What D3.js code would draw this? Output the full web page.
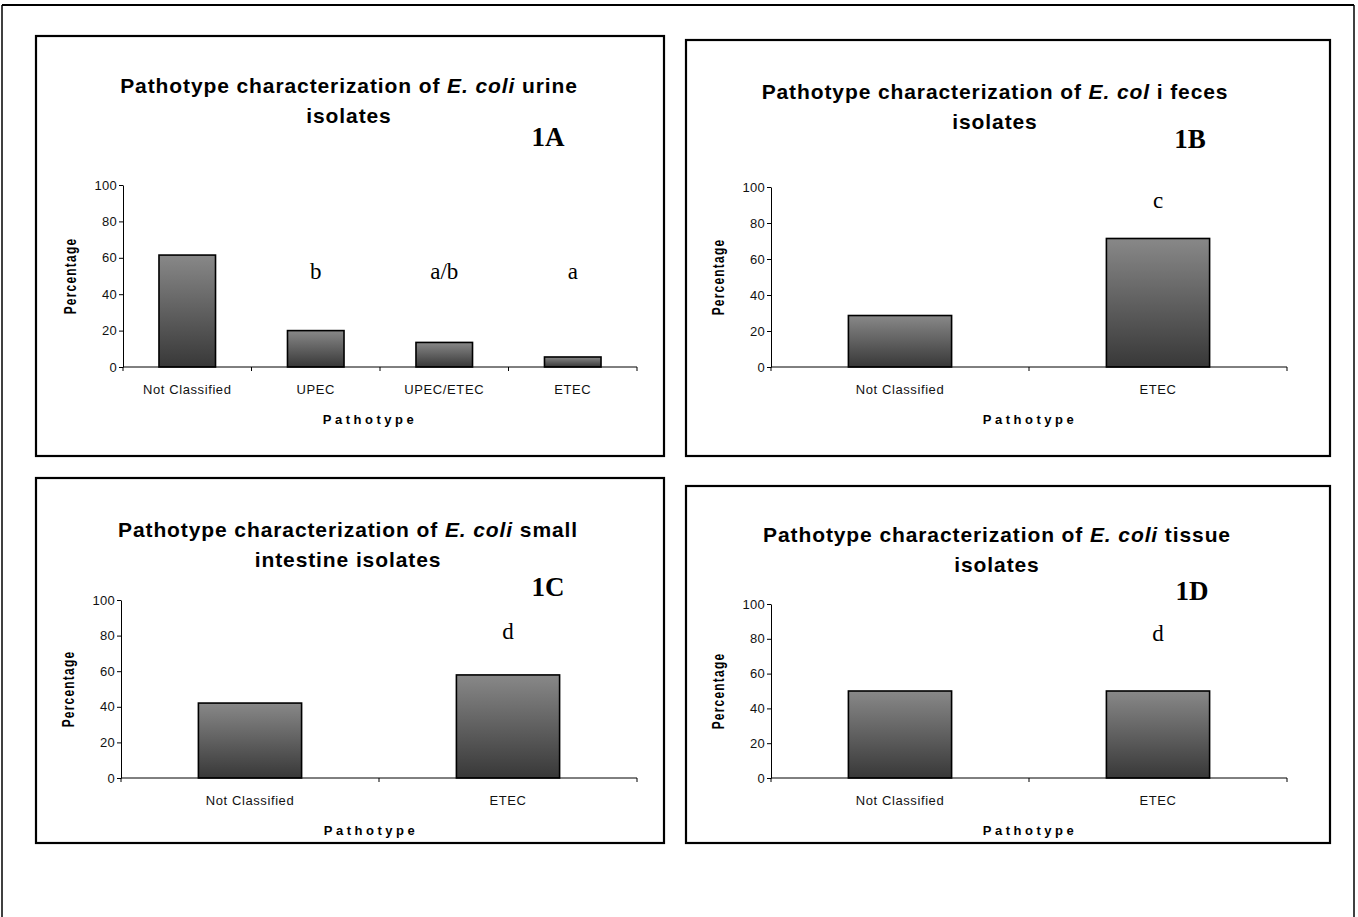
<!DOCTYPE html>
<html>
<head>
<meta charset="utf-8">
<script src="https://cdn.jsdelivr.net/npm/d3@7"></script>
<style>
  html, body { margin: 0; padding: 0; background: #fff; }
  svg { display: block; }
</style>
</head>
<body>
<svg id="chart" width="1358" height="917"></svg>
<script>
// ---------------- DATA ----------------
const categoriesA = ["Not Classified", "UPEC", "UPEC/ETEC", "ETEC"];
const valuesA = [61.5, 20, 13.5, 5.5];
const lettersA = ["", "b", "a/b", "a"];

const categoriesB = ["Not Classified", "ETEC"];
const valuesB = [28.6, 71.4];
const lettersB = ["", "c"];

const categoriesC = ["Not Classified", "ETEC"];
const valuesC = [42.1, 57.9];
const lettersC = ["", "d"];

const categoriesD = ["Not Classified", "ETEC"];
const valuesD = [50, 50];
const lettersD = ["", "d"];

const yTicks = [0, 20, 40, 60, 80, 100];
const panelLabels = ["1A", "1B", "1C", "1D"];
const titlesLine1 = [
  [["Pathotype characterization of ", false], ["E. coli", true], [" urine", false]],
  [["Pathotype characterization of ", false], ["E. col", true], [" i feces", false]],
  [["Pathotype characterization of ", false], ["E. coli", true], [" small", false]],
  [["Pathotype characterization of ", false], ["E. coli", true], [" tissue", false]]
];
const titlesLine2 = ["isolates", "isolates", "intestine isolates", "isolates"];
const xAxisTitle = "Pathotype";
const yAxisTitle = "Percentage";

// ---------------- LAYOUT ----------------
const layout = [
  { box: [36, 36, 664, 456], plot: [123, 185, 637, 367], titleX: 349, titleY: 87, labelX: 548, labelY: 140, letterLevel: 51, barFrac: 0.44, xTitleX: 370 },
  { box: [686, 40, 1330, 456], plot: [771, 187, 1287, 367], titleX: 995, titleY: 93, labelX: 1190, labelY: 142, letterLevel: 91, barFrac: 0.40, xTitleX: 1030 },
  { box: [36, 478, 664, 843], plot: [121, 600, 637, 778], titleX: 348, titleY: 531, labelX: 548, labelY: 590, letterLevel: 81, barFrac: 0.40, xTitleX: 371 },
  { box: [686, 486, 1330, 843], plot: [771, 604, 1287, 778], titleX: 997, titleY: 536, labelX: 1192, labelY: 594, letterLevel: 82, barFrac: 0.40, xTitleX: 1030 }
];

const panelsData = [
  { cats: categoriesA, vals: valuesA, letters: lettersA },
  { cats: categoriesB, vals: valuesB, letters: lettersB },
  { cats: categoriesC, vals: valuesC, letters: lettersC },
  { cats: categoriesD, vals: valuesD, letters: lettersD }
];

const svg = d3.select("#chart");

// gradient for bars
const defs = svg.append("defs");
const grad = defs.append("linearGradient").attr("id", "barGrad")
  .attr("x1", 0).attr("y1", 0).attr("x2", 0).attr("y2", 1);
grad.append("stop").attr("offset", "0%").attr("stop-color", "#888888");
grad.append("stop").attr("offset", "100%").attr("stop-color", "#383838");

// outer frame
svg.append("line").attr("x1", 2).attr("y1", 5).attr("x2", 1354).attr("y2", 5)
  .attr("stroke", "#000").attr("stroke-width", 2);
svg.append("line").attr("x1", 2).attr("y1", 5).attr("x2", 2).attr("y2", 917)
  .attr("stroke", "#000").attr("stroke-width", 1.5);
svg.append("line").attr("x1", 1354).attr("y1", 5).attr("x2", 1354).attr("y2", 917)
  .attr("stroke", "#000").attr("stroke-width", 1.5);

const sansFont = "'Liberation Sans', Arial, sans-serif";
const serifFont = "'Liberation Serif', 'Times New Roman', serif";

panelsData.forEach((pd, i) => {
  const L = layout[i];
  const g = svg.append("g");
  const [bx0, by0, bx1, by1] = L.box;
  g.append("rect").attr("x", bx0).attr("y", by0)
    .attr("width", bx1 - bx0).attr("height", by1 - by0)
    .attr("fill", "#fff").attr("stroke", "#000").attr("stroke-width", 2.2);

  // title
  const t1 = g.append("text").attr("x", L.titleX).attr("y", L.titleY)
    .attr("text-anchor", "middle").attr("font-family", sansFont)
    .attr("font-weight", "bold").attr("font-size", 21).attr("letter-spacing", 0.9)
    .attr("dominant-baseline", "middle");
  titlesLine1[i].forEach(([txt, it]) => {
    t1.append("tspan").attr("font-style", it ? "italic" : "normal").text(txt);
  });
  g.append("text").attr("x", L.titleX).attr("y", L.titleY + 30)
    .attr("text-anchor", "middle").attr("font-family", sansFont)
    .attr("font-weight", "bold").attr("font-size", 21).attr("letter-spacing", 0.9)
    .attr("dominant-baseline", "middle")
    .text(titlesLine2[i]);

  // panel label
  g.append("text").attr("x", L.labelX).attr("y", L.labelY)
    .attr("text-anchor", "middle").attr("dominant-baseline", "middle")
    .attr("font-family", serifFont).attr("font-weight", "bold").attr("font-size", 27)
    .text(panelLabels[i]);

  const [px0, py0, px1, py1] = L.plot;
  const x = d3.scaleBand().domain(pd.cats).range([px0, px1]).paddingInner(0).paddingOuter(0);
  const y = d3.scaleLinear().domain([0, 100]).range([py1, py0]);

  // bars
  const bw = x.bandwidth() * L.barFrac;
  g.selectAll("rect.bar").data(pd.vals).enter().append("rect")
    .attr("class", "bar")
    .attr("x", (d, j) => x(pd.cats[j]) + (x.bandwidth() - bw) / 2)
    .attr("y", d => y(d))
    .attr("width", bw)
    .attr("height", d => y(0) - y(d))
    .attr("fill", "url(#barGrad)")
    .attr("stroke", "#000").attr("stroke-width", 1.6);

  // y axis
  const yAxis = d3.axisLeft(y).tickValues(yTicks).tickSize(4).tickSizeOuter(0);
  const ya = g.append("g").attr("transform", `translate(${px0},0)`).call(yAxis);
  ya.select(".domain").attr("stroke", "#000").attr("stroke-width", 1);
  ya.selectAll(".tick line").attr("stroke", "#000");
  ya.selectAll(".tick text").attr("font-family", sansFont).attr("font-size", 13)
    .attr("letter-spacing", 0.3).attr("fill", "#111").attr("x", -6);

  // x axis: line + boundary ticks
  g.append("line").attr("x1", px0).attr("x2", px1).attr("y1", py1).attr("y2", py1)
    .attr("stroke", "#000").attr("stroke-width", 1);
  const bounds = pd.cats.map(c => x(c)).concat([px1]);
  g.selectAll("line.xt").data(bounds).enter().append("line")
    .attr("x1", d => d).attr("x2", d => d).attr("y1", py1).attr("y2", py1 + 4)
    .attr("stroke", "#000").attr("stroke-width", 1);
  g.selectAll("text.xl").data(pd.cats).enter().append("text")
    .attr("x", d => x(d) + x.bandwidth() / 2).attr("y", py1 + 27)
    .attr("text-anchor", "middle").attr("font-family", sansFont).attr("font-size", 13)
    .attr("letter-spacing", 0.6).attr("fill", "#111").text(d => d);

  // letters above bars
  g.selectAll("text.letter").data(pd.letters).enter().append("text")
    .attr("x", (d, j) => x(pd.cats[j]) + x.bandwidth() / 2)
    .attr("y", y(L.letterLevel))
    .attr("text-anchor", "middle").attr("dominant-baseline", "middle")
    .attr("font-family", serifFont).attr("font-size", 23).text(d => d);

  // axis titles
  g.append("text").attr("x", L.xTitleX).attr("y", py1 + 57)
    .attr("text-anchor", "middle").attr("font-family", sansFont).attr("font-weight", "bold")
    .attr("font-size", 13).attr("letter-spacing", 3.5).text(xAxisTitle);
  const yMid = (py0 + py1) / 2;
  g.append("text").attr("transform", `translate(${px0 - 51},${yMid}) rotate(-90) scale(1,1.35)`)
    .attr("text-anchor", "middle").attr("dominant-baseline", "middle")
    .attr("font-family", sansFont).attr("font-weight", "bold").attr("font-size", 12)
    .attr("letter-spacing", 1.2).text(yAxisTitle);
});
</script>
</body>
</html>
